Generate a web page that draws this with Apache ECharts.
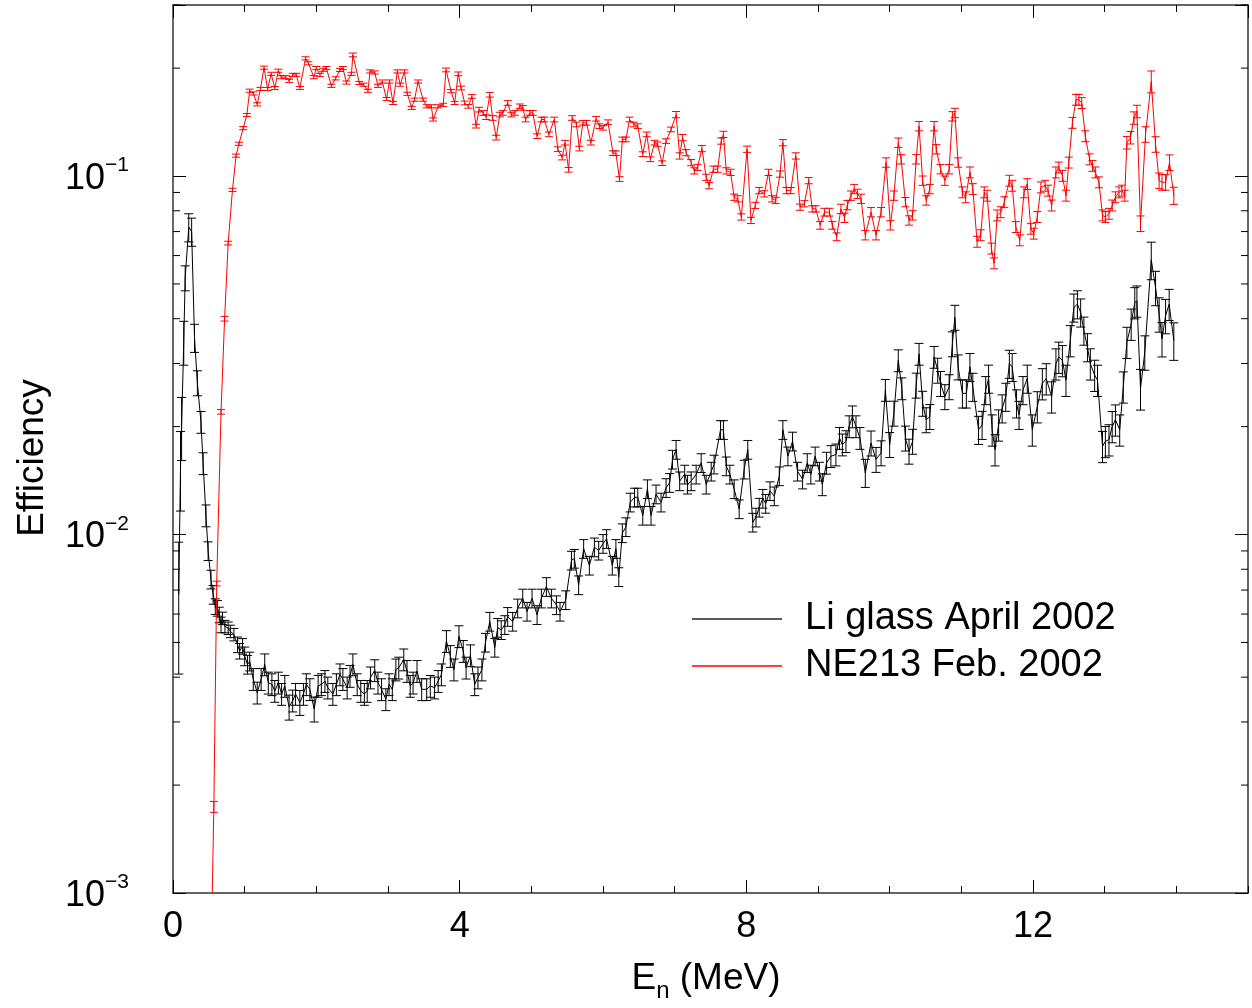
<!DOCTYPE html>
<html><head><meta charset="utf-8">
<script src="https://cdn.jsdelivr.net/npm/echarts@6/dist/echarts.min.js"></script>
<style>html,body{margin:0;padding:0;background:#fff}#c{width:1252px;height:1008px}</style>
</head><body><div id="c"></div>
<script>
// ---- data ----
const seriesNames = ['Li glass April 2002', 'NE213 Feb. 2002'];
const xTickLabels = [0, 4, 8, 12];
const yDecades = [0.001, 0.01, 0.1];
const yMinorTicks = [0.002,0.003,0.004,0.005,0.006,0.007,0.008,0.009,
                     0.02,0.03,0.04,0.05,0.06,0.07,0.08,0.09,0.2,0.3];
// [energy MeV, efficiency, error %]
const liGlass = [[0.08,0.0068,40],[0.105,0.0155,25],[0.12,0.0201,20],[0.15,0.0345,14],[0.17,0.052,8],[0.22,0.072,9],[0.26,0.070,9],[0.30,0.0354,9],[0.34,0.0265,8],[0.39,0.0206,7],[0.42,0.0158,7],[0.46,0.0113,7],[0.49,0.0090,6],[0.53,0.0075,6],[0.56,0.0068,6],[0.59,0.0063,5],
[0.62,0.00623,5],[0.645,0.00597,5],[0.67,0.0056,5],[0.69,0.00584,4],[0.725,0.00554,4],[0.77,0.00548,4],[0.80,0.00537,4],[0.85,0.00526,4],[0.90,0.00493,5],[0.93,0.00473,5],[0.97,0.00488,5],[1.00,0.00458,6],[1.04,0.00434,6],[1.07,0.00443,6],[1.12,0.00395,7],[1.175,0.00362,7],[1.23,0.00395,7],[1.28,0.00434,7],[1.33,0.00386,7],[1.38,0.00382,7],[1.42,0.00366,7],[1.47,0.00386,7],[1.515,0.00359,7],[1.56,0.00378,7],[1.62,0.0033,8],[1.67,0.00344,7],[1.71,0.00359,7],[1.77,0.0034,8],[1.82,0.00359,7],[1.86,0.00382,7],[1.91,0.0037,7],[1.97,0.00326,8],[2.025,0.00378,7],[2.07,0.00382,7],[2.12,0.0039,7],[2.16,0.00374,7],[2.23,0.00359,7],[2.28,0.00382,7],[2.33,0.00407,7],[2.37,0.00395,7],[2.43,0.00374,7],[2.47,0.00403,7],[2.51,0.00434,7],[2.57,0.00382,7],[2.62,0.00366,7],[2.67,0.00359,7],[2.71,0.00366,7],[2.755,0.00399,7],[2.815,0.00418,7],[2.86,0.00386,7],[2.91,0.0037,7],[2.97,0.00347,7],[3.015,0.00382,7],[3.06,0.0037,7],[3.11,0.0042,7],[3.15,0.00425,7],[3.22,0.00448,7],[3.265,0.00416,7],[3.31,0.00378,7],[3.35,0.00386,7],[3.405,0.00416,7],[3.47,0.0037,7],[3.54,0.0037,7],[3.59,0.00378,7],[3.65,0.00374,7],[3.70,0.0039,7],[3.745,0.00407,7],[3.815,0.00504,7],[3.87,0.00458,7],[3.92,0.0042,7],[3.99,0.0052,7],[4.05,0.00473,7],[4.09,0.00425,7],[4.15,0.0046,7],[4.21,0.00382,7],[4.255,0.00399,7],[4.31,0.0042,7],[4.36,0.0050,6],[4.42,0.00572,6],[4.49,0.00484,6],[4.53,0.0055,6],[4.58,0.00542,6],[4.63,0.0056,6],[4.67,0.0059,6],[4.74,0.00572,6],[4.81,0.00623,6],[4.88,0.00664,6],[4.94,0.0061,6],[5.01,0.00664,6],[5.08,0.00597,6],[5.14,0.00664,6],[5.21,0.00715,6],[5.28,0.00664,6],[5.35,0.00636,6],[5.40,0.0061,6],[5.48,0.00657,6],[5.56,0.00847,6],[5.60,0.00857,6],[5.66,0.00723,6],[5.73,0.00913,6],[5.81,0.0082,6],[5.88,0.00922,6],[5.94,0.00903,6],[6.00,0.00943,6],[6.05,0.00973,6],[6.13,0.0082,6],[6.18,0.00913,6],[6.22,0.00762,6],[6.27,0.0101,6],[6.32,0.0105,6],[6.38,0.0123,6],[6.44,0.0127,6],[6.485,0.0127,6],[6.555,0.0113,6],[6.62,0.0134,6],[6.67,0.0113,6],[6.74,0.01296,6],[6.81,0.0123,6],[6.88,0.0135,6],[6.93,0.01395,6],[6.97,0.0162,6],[7.02,0.01726,6],[7.07,0.0141,6],[7.14,0.01472,6],[7.18,0.0138,6],[7.23,0.0141,6],[7.30,0.01472,6],[7.37,0.01585,6],[7.44,0.0138,6],[7.51,0.0150,6],[7.55,0.0157,6],[7.64,0.0196,6],[7.68,0.0196,6],[7.72,0.01552,6],[7.77,0.01472,6],[7.83,0.0134,6],[7.90,0.01178,6],[7.97,0.0152,6],[8.02,0.01726,6],[8.09,0.01081,6],[8.135,0.01117,6],[8.18,0.0119,6],[8.23,0.0126,6],[8.27,0.0122,6],[8.33,0.01323,6],[8.39,0.0128,6],[8.46,0.01456,6],[8.51,0.0196,6],[8.58,0.01654,6],[8.645,0.0182,6],[8.715,0.015,6],[8.785,0.01426,6],[8.85,0.01585,6],[8.90,0.01472,6],[8.96,0.01654,6],[9.02,0.015,6],[9.06,0.0138,7],[9.12,0.01585,7],[9.18,0.01654,7],[9.25,0.01671,7],[9.30,0.01858,7],[9.34,0.01782,7],[9.39,0.0182,7],[9.435,0.02003,7],[9.48,0.02134,7],[9.53,0.02003,7],[9.585,0.01858,7],[9.66,0.01487,9],[9.74,0.018,8],[9.81,0.0162,8],[9.88,0.0169,8],[9.94,0.0253,7],[10.00,0.01782,8],[10.06,0.0218,8],[10.12,0.0306,7],[10.17,0.02556,7],[10.22,0.01858,8],[10.27,0.01708,8],[10.32,0.0182,8],[10.37,0.0261,8],[10.41,0.0319,7],[10.46,0.02323,8],[10.51,0.0209,8],[10.56,0.02134,8],[10.62,0.03128,7],[10.67,0.02873,8],[10.71,0.02638,8],[10.77,0.02424,8],[10.83,0.02584,8],[10.875,0.03404,8],[10.91,0.04036,8],[10.955,0.02935,8],[11.015,0.02476,9],[11.07,0.02476,9],[11.12,0.02935,9],[11.16,0.02584,9],[11.24,0.0196,9],[11.29,0.02024,9],[11.34,0.0253,9],[11.38,0.02723,9],[11.43,0.0196,10],[11.47,0.01726,10],[11.52,0.02024,10],[11.57,0.0225,9],[11.62,0.02424,9],[11.67,0.02996,9],[11.71,0.02935,9],[11.77,0.02323,9],[11.805,0.02158,9],[11.86,0.0253,9],[11.92,0.02723,9],[11.99,0.0196,10],[12.06,0.02275,10],[12.13,0.02638,10],[12.185,0.02723,10],[12.26,0.02424,10],[12.32,0.02996,10],[12.36,0.03128,10],[12.41,0.0306,10],[12.46,0.02697,10],[12.52,0.03478,10],[12.57,0.043,9],[12.62,0.0439,9],[12.665,0.04165,9],[12.71,0.03707,9],[12.76,0.03333,9],[12.80,0.02996,10],[12.86,0.02785,10],[12.90,0.02697,10],[12.97,0.01763,10],[13.01,0.0182,10],[13.06,0.0184,10],[13.105,0.02003,10],[13.15,0.0209,10],[13.21,0.0196,10],[13.26,0.02584,10],[13.31,0.03441,10],[13.37,0.03867,10],[13.42,0.04439,10],[13.45,0.04487,10],[13.50,0.02556,13],[13.56,0.03228,11],[13.65,0.05838,12],[13.71,0.04885,11],[13.76,0.04121,11],[13.80,0.03515,11],[13.85,0.04079,11],[13.90,0.0439,10],[13.965,0.03478,12]];

const ne213 = [[0.52,0.0005,4],[0.57,0.00174,3.5],[0.61,0.0073,1.5],[0.67,0.022,1.5],[0.72,0.040,1.5],[0.77,0.065,1.2],[0.83,0.0915,1],[0.88,0.114,1],[0.92,0.123,1],[0.98,0.136,1],[1.03,0.148,1],[1.07,0.173,1],[1.12,0.170,1],[1.175,0.1585,1],[1.22,0.175,1],[1.27,0.2006,1],[1.32,0.1749,1],[1.37,0.1928,1],[1.42,0.176,1],[1.47,0.1967,1],[1.51,0.1887,1],[1.575,0.1887,1],[1.62,0.1843,1],[1.67,0.1915,1],[1.72,0.1915,1],[1.77,0.176,1],[1.85,0.213,1],[1.89,0.2063,1],[1.965,0.1887,1],[2.00,0.2001,1],[2.05,0.1915,1],[2.095,0.1979,1],[2.14,0.2001,1],[2.21,0.1785,1],[2.27,0.1873,1],[2.33,0.1977,1],[2.37,0.2001,1],[2.42,0.1823,1],[2.49,0.1928,1],[2.51,0.2177,1.2],[2.60,0.1818,1],[2.66,0.1798,1],[2.72,0.1729,1],[2.75,0.1958,1],[2.815,0.1945,1],[2.86,0.1785,1],[2.92,0.1835,1],[2.98,0.164,1],[3.02,0.1835,1],[3.07,0.1599,1],[3.13,0.1958,1],[3.17,0.1798,1],[3.23,0.1958,1],[3.27,0.1696,1],[3.33,0.1549,1],[3.37,0.1633,1],[3.42,0.1835,1],[3.49,0.1633,1],[3.54,0.1565,1],[3.605,0.1565,1],[3.63,0.1438,1],[3.70,0.1565,1],[3.77,0.158,1],[3.81,0.1977,1.2],[3.88,0.1725,1],[3.93,0.1599,1],[3.98,0.1928,1.2],[4.02,0.176,1.2],[4.07,0.1599,1.2],[4.12,0.1565,1.2],[4.17,0.1667,1.2],[4.23,0.1378,1.2],[4.27,0.1532,1.5],[4.33,0.150,1.5],[4.37,0.146,1.5],[4.42,0.1686,1.5],[4.46,0.1452,1.5],[4.51,0.128,1.5],[4.56,0.1484,1.5],[4.60,0.15,1.5],[4.67,0.1599,1.5],[4.72,0.1484,1.5],[4.77,0.15,1.5],[4.84,0.1565,1.5],[4.88,0.1549,1.5],[4.92,0.1438,1.5],[4.98,0.15,1.5],[5.02,0.15,1.5],[5.08,0.1292,1.5],[5.14,0.1438,1.5],[5.18,0.1438,1.5],[5.245,0.1307,1.5],[5.32,0.1438,1.5],[5.37,0.1188,1.5],[5.43,0.1126,1.5],[5.47,0.1239,1.5],[5.52,0.1041,1.5],[5.57,0.1452,1.5],[5.63,0.1393,1.5],[5.67,0.1193,1.5],[5.72,0.1408,1.5],[5.77,0.1408,1.5],[5.83,0.1239,1.5],[5.905,0.1445,1.5],[5.95,0.1378,1.5],[6.00,0.1364,1.5],[6.07,0.1413,1.5],[6.14,0.1158,1.5],[6.18,0.1158,1.5],[6.23,0.0981,1.5],[6.27,0.1265,1.5],[6.32,0.1265,1.5],[6.37,0.1438,1.5],[6.43,0.1393,1.5],[6.485,0.1378,1.5],[6.555,0.1151,1.5],[6.61,0.1307,1.5],[6.66,0.1114,1.5],[6.72,0.1239,1.5],[6.76,0.1226,1.5],[6.825,0.1086,1.5],[6.88,0.1252,1.5],[6.95,0.1349,1.5],[7.02,0.1484,2],[7.07,0.1138,2],[7.11,0.128,2],[7.16,0.1162,2],[7.23,0.109,2],[7.275,0.1034,2],[7.32,0.1057,2],[7.38,0.1193,2],[7.44,0.0992,2],[7.48,0.094,2],[7.54,0.1045,2],[7.60,0.1045,2],[7.65,0.1252,2],[7.68,0.1307,2],[7.72,0.1034,2],[7.78,0.1024,2],[7.83,0.0873,2],[7.88,0.0864,2],[7.93,0.0769,2],[8.01,0.1188,2],[8.065,0.0752,2],[8.125,0.0828,2],[8.18,0.0911,2],[8.25,0.0892,2],[8.31,0.1024,2],[8.36,0.0864,2],[8.41,0.0855,2],[8.47,0.1013,2],[8.51,0.1239,2],[8.56,0.0911,2],[8.62,0.0911,2],[8.69,0.1138,2],[8.75,0.0819,2],[8.81,0.0837,2],[8.87,0.0971,2],[8.92,0.081,2],[8.97,0.081,2],[9.03,0.0729,2.5],[9.09,0.0793,2.5],[9.16,0.0793,2.5],[9.20,0.0729,2.5],[9.26,0.0677,2.5],[9.32,0.081,3],[9.37,0.0765,3],[9.41,0.083,3],[9.46,0.0882,3],[9.505,0.092,3],[9.55,0.0892,3],[9.60,0.0864,3],[9.66,0.0684,3],[9.74,0.0793,3],[9.81,0.0684,3],[9.88,0.0793,3],[9.95,0.1091,3],[10.01,0.0729,3],[10.06,0.0882,3],[10.12,0.1239,3],[10.16,0.1114,3],[10.22,0.0846,3],[10.27,0.0752,3],[10.32,0.0777,3],[10.37,0.1114,3],[10.41,0.1378,3],[10.46,0.0971,3],[10.51,0.0855,3],[10.56,0.092,3],[10.62,0.1378,3],[10.65,0.1188,3],[10.71,0.1045,3],[10.77,0.0971,3],[10.83,0.1045,3],[10.875,0.1468,3],[10.91,0.15,3],[10.955,0.1091,3],[11.015,0.0901,3.5],[11.06,0.0873,3.5],[11.12,0.1024,3.5],[11.16,0.092,3.5],[11.22,0.0656,3.5],[11.27,0.0684,3.5],[11.32,0.0901,3.5],[11.36,0.0882,3.5],[11.42,0.0628,3.5],[11.456,0.0571,3.5],[11.50,0.0777,3.5],[11.55,0.0793,3.5],[11.60,0.0846,3.5],[11.67,0.0971,3.5],[11.71,0.094,3.5],[11.76,0.0721,3.5],[11.815,0.0662,3.5],[11.875,0.0901,3.5],[11.92,0.095,3.5],[11.97,0.0713,3.5],[12.01,0.0691,3.5],[12.06,0.0769,3.5],[12.11,0.093,3.5],[12.17,0.094,3.5],[12.21,0.0911,3.5],[12.26,0.0828,3.5],[12.32,0.1024,3.5],[12.36,0.1057,3.5],[12.41,0.1002,3.5],[12.46,0.0882,3.5],[12.50,0.1091,3.5],[12.55,0.1408,3.5],[12.60,0.1633,3.5],[12.64,0.1633,3.5],[12.68,0.1599,3.5],[12.73,0.1292,3.5],[12.79,0.1114,3.5],[12.83,0.1068,3.5],[12.87,0.1024,3.5],[12.92,0.0961,3.5],[12.97,0.0777,3.5],[13.01,0.0769,3.5],[13.06,0.0785,3.5],[13.105,0.0828,3.5],[13.15,0.0873,3.5],[13.20,0.0901,3.5],[13.24,0.0911,3.5],[13.28,0.0882,3.5],[13.31,0.1239,4],[13.36,0.128,4],[13.41,0.1452,4],[13.45,0.1515,4],[13.50,0.0737,5],[13.57,0.1307,5],[13.65,0.1835,7],[13.71,0.1226,5],[13.76,0.0971,5],[13.80,0.0961,5],[13.85,0.0961,5],[13.905,0.1091,5],[13.965,0.0882,5.5]];

// ---- chart ----
const FONT = "'Liberation Sans', Arial, Helvetica, sans-serif";
const X_MIN = 0, X_MAX = 15, Y_MIN = 0.001, Y_MAX = 0.3;
const chart = echarts.init(document.getElementById('c'), null, {renderer: 'canvas'});

function lineData(rows) { return rows.map(r => [r[0], r[1]]); }
function errData(rows) { return rows.map(r => [r[0], r[1] * (1 - r[2] / 100), r[1] * (1 + r[2] / 100)]); }
function errRender(color, capHalf) {
  return function (params, api) {
    const x = api.value(0), lo = api.value(1), hi = api.value(2);
    const a = api.coord([x, hi]), b = api.coord([x, lo]);
    const st = {stroke: color, lineWidth: 1};
    return {type: 'group', children: [
      {type: 'line', shape: {x1: a[0], y1: a[1], x2: b[0], y2: b[1]}, style: st},
      {type: 'line', shape: {x1: a[0] - capHalf, y1: a[1], x2: a[0] + capHalf, y2: a[1]}, style: st},
      {type: 'line', shape: {x1: b[0] - capHalf, y1: b[1], x2: b[0] + capHalf, y2: b[1]}, style: st}
    ]};
  };
}
function yLabel(v) {
  const e = Math.log10(v), r = Math.round(e);
  if (Math.abs(e - r) > 1e-6) return '';
  if (!yDecades.some(d => Math.abs(Math.log10(d) - r) < 1e-6)) return '';
  return '{b|10}{s|' + (r < 0 ? '\u2212' : '') + Math.abs(r) + '}';
}
const axisLineStyle = {color: '#333', width: 1.5};
const tickStyle = {color: '#000', width: 1};
function xAxisDef(pos, interval, len, withLabels, showLine) {
  return {
    type: 'value', min: X_MIN, max: X_MAX, interval: interval, position: pos,
    axisLine: {show: showLine, onZero: false, lineStyle: axisLineStyle},
    axisTick: {show: true, inside: true, length: len, lineStyle: tickStyle},
    splitLine: {show: false},
    axisLabel: withLabels ? {
      show: true, fontSize: 36, color: '#000', fontFamily: FONT, margin: 16,
      showMaxLabel: false,
      formatter: v => (xTickLabels.indexOf(v) >= 0 ? String(v) : '')
    } : {show: false},
    name: withLabels ? '{a|E}{n|n}{a| (MeV)}' : '',
    nameLocation: 'middle', nameGap: 62,
    nameTextStyle: withLabels ? {
      padding: [0, 9, 0, 0],
      rich: {
        a: {fontSize: 37, fontFamily: FONT, color: '#000', lineHeight: 48},
        n: {fontSize: 24, fontFamily: FONT, color: '#000', lineHeight: 16, verticalAlign: 'bottom'}
      }
    } : {}
  };
}
function yAxisDef(pos, withLabels) {
  return {
    type: 'log', logBase: 10, min: Y_MIN, max: Y_MAX, position: pos,
    axisLine: {show: true, onZero: false, lineStyle: axisLineStyle},
    axisTick: {show: true, inside: true, length: 13, lineStyle: tickStyle},
    minorTick: {show: false}, splitLine: {show: false},
    axisLabel: withLabels ? {
      show: true, margin: 44, formatter: yLabel, padding: [6, 0, 0, 0],
      rich: {
        b: {fontSize: 36, fontFamily: FONT, color: '#000', lineHeight: 48},
        s: {fontSize: 21, fontFamily: FONT, color: '#000', lineHeight: 21, verticalAlign: 'top'}
      }
    } : {show: false},
    name: withLabels ? 'Efficiency' : '',
    nameLocation: 'middle', nameGap: 122,
    nameTextStyle: {fontSize: 37, fontFamily: FONT, color: '#000', padding: [0, 18, 0, 0]}
  };
}

const option = {
  animation: false,
  backgroundColor: '#fff',
  textStyle: {fontFamily: FONT},
  grid: {left: 173, right: 4, top: 5, bottom: 108, containLabel: false},
  xAxis: [
    xAxisDef('bottom', 4, 13, true, true),
    xAxisDef('bottom', 1, 7, false, false),
    xAxisDef('top', 4, 13, false, true),
    xAxisDef('top', 1, 7, false, false)
  ],
  yAxis: [yAxisDef('left', true), yAxisDef('right', false)],
  legend: {
    orient: 'vertical', left: 692, top: 599, padding: 0,
    itemWidth: 90, itemHeight: 1.5, itemGap: 7, selectedMode: false,
    textStyle: {fontSize: 38, fontFamily: FONT, color: '#000', lineHeight: 40, padding: [0, 0, 0, 18]},
    data: [
      {name: seriesNames[0], icon: 'rect', itemStyle: {color: '#222'}},
      {name: seriesNames[1], icon: 'rect', itemStyle: {color: '#ff0000'}}
    ]
  },
  series: [
    {
      name: 'minor ticks', type: 'custom', silent: true, z: 5,
      data: yMinorTicks.map(v => [X_MIN, v]),
      renderItem: function (params, api) {
        const v = api.value(1);
        const l = api.coord([X_MIN, v]), r = api.coord([X_MAX, v]);
        const st = {stroke: '#000', lineWidth: 1};
        return {type: 'group', children: [
          {type: 'line', shape: {x1: l[0], y1: l[1], x2: l[0] + 7, y2: l[1]}, style: st},
          {type: 'line', shape: {x1: r[0] - 7, y1: r[1], x2: r[0], y2: r[1]}, style: st}
        ]};
      }
    },
    {
      name: seriesNames[0] + ' errors', type: 'custom', clip: true, silent: true, z: 3,
      encode: {x: 0, y: [1, 2]},
      data: errData(liGlass), renderItem: errRender('#000', 4.5)
    },
    {
      name: seriesNames[0], type: 'line', data: lineData(liGlass), clip: true,
      symbol: 'none', showSymbol: false, z: 4,
      itemStyle: {color: '#000'}, lineStyle: {color: '#000', width: 1}
    },
    {
      name: seriesNames[1] + ' errors', type: 'custom', clip: true, silent: true, z: 3,
      encode: {x: 0, y: [1, 2]},
      data: errData(ne213), renderItem: errRender('#ff0000', 4)
    },
    {
      name: seriesNames[1], type: 'line', data: lineData(ne213), clip: true,
      symbol: 'none', showSymbol: false, z: 4,
      itemStyle: {color: '#ff0000'}, lineStyle: {color: '#ff0000', width: 1}
    }
  ]
};
chart.setOption(option);
</script>
</body></html>
